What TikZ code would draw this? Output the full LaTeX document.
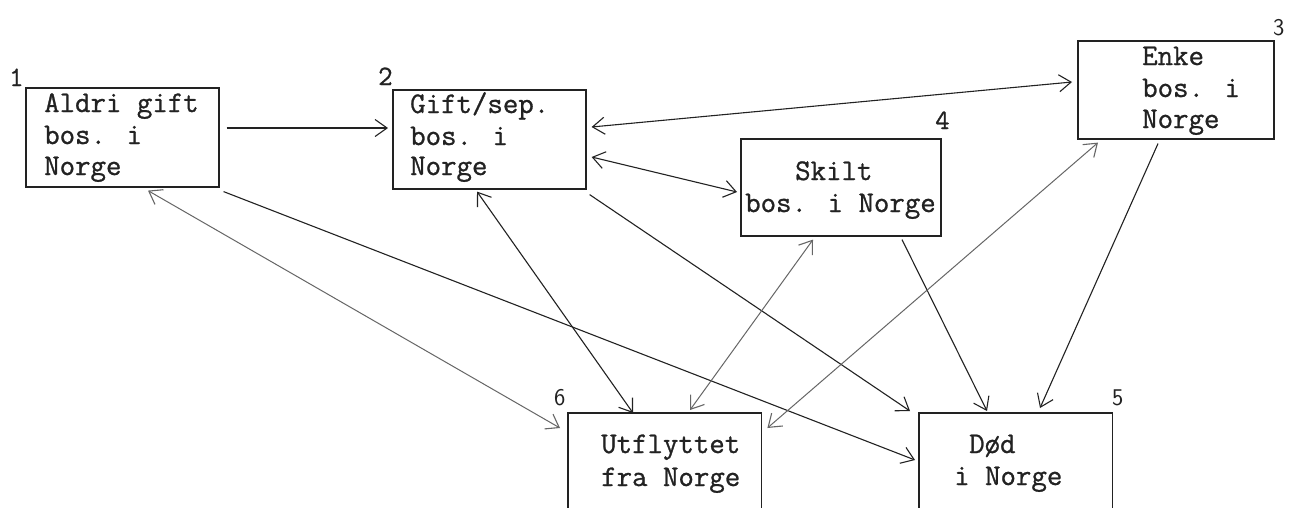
\documentclass[tikz,border=0pt]{standalone}
\usepackage{fontspec}
\newfontfamily\typew{Latin Modern Mono}[FakeBold=0.9]
\usetikzlibrary{arrows.meta,calc}
\definecolor{ink}{HTML}{222222}
\definecolor{faint}{HTML}{666666}
\tikzset{
  box/.style={draw=ink, line width=1.6pt, inner sep=0pt, anchor=north west},
  openbox/.style={draw=none, inner sep=0pt, anchor=north west},
  txt/.style={anchor=base west, inner sep=0pt, text=ink, font=\fontsize{30}{32}\selectfont\typew},
  numtt/.style={anchor=base west, inner sep=0pt, text=ink, font=\fontsize{28}{30}\selectfont\typew},
  numsf/.style={anchor=base west, inner sep=0pt, text=ink, font=\fontsize{24}{26}\selectfont\sffamily},
  conn/.style={draw=ink, line width=1.1pt, -{Straight Barb[length=12pt,width=17pt,line width=1.1pt]}},
  biconn/.style={draw=ink, line width=1.1pt, {Straight Barb[length=12pt,width=17pt,line width=1.1pt]}-{Straight Barb[length=12pt,width=17pt,line width=1.1pt]}},
  light/.style={draw=faint, line width=1pt}
}
\begin{document}
\begin{tikzpicture}[x=1pt,y=-1pt]
\useasboundingbox (0,0) rectangle (1289,507);
\clip (0,0) rectangle (1289,507);
\fill[white] (0,0) rectangle (1289,507);

% boxes
\node[box, minimum width=193pt, minimum height=99pt] (b1) at (25,87) {};
\node[box, minimum width=193pt, minimum height=99pt] (b2) at (392,89) {};
\node[box, minimum width=196pt, minimum height=98pt] (b3) at (1077,40) {};
\node[box, minimum width=200pt, minimum height=97pt] (b4) at (740,138) {};
\node[openbox, minimum width=193pt, minimum height=130pt] (b6) at (568,413) {};
\node[openbox, minimum width=193pt, minimum height=130pt] (b5) at (919,413) {};
\draw[ink, line width=1.6pt] (b6.south west) |- (b6.north east) -- (b6.south east);
\draw[ink, line width=1.6pt] (b5.south west) |- (b5.north east) -- (b5.south east);

% texts
\node[txt] (t1a) at (44,112) {Aldri gift};
\node[txt] (t1b) at (44,144) {bos. i};
\node[txt] (t1c) at (44,175) {Norge};
\node[txt] (t2a) at (410,113) {Gift/sep.};
\node[txt] (t2b) at (410,145) {bos. i};
\node[txt] (t2c) at (410,175) {Norge};
\node[txt] (t3a) at (1142,65) {Enke};
\node[txt] (t3b) at (1142,97) {bos. i};
\node[txt] (t3c) at (1142,128) {Norge};
\node[txt] (t4a) at (795,180) {Skilt};
\node[txt] (t4b) at (745,212) {bos. i Norge};
\node[txt] (t6a) at (601,453) {Utflyttet};
\node[txt] (t6b) at (601,486) {fra Norge};
\node[txt] (t5a) at (969,453) {Død};
\node[txt] (t5b) at (954,485) {i Norge};

% numbers
\node[numtt] (n1) at (9,86) {1};
\node[numtt] (n2) at (378,85) {2};
\node[numsf] (n3) at (1273,35) {3};
\node[numtt] (n4) at (935,129) {4};
\node[numsf] (n5) at (1112,405) {5};
\node[numsf] (n6) at (554,405) {6};

% connectors
\draw[conn] ($(b1.north east)+(7,41)$) -- ($(b2.north west)+(-4,39)$);
\draw[biconn] ($(b2.north east)+(5,38)$) -- ($(b3.north west)+(-5,42)$);
\draw[biconn] ($(b2.north east)+(5,68)$) -- ($(b4.north west)+(-3,54)$);
\draw[biconn, light] ($(b1.south west)+(123,3)$) -- ($(b6.north west)+(-8,15)$);
\draw[conn] ($(b1.south east)+(4,4)$) -- ($(b5.north west)+(-4,47)$);
\draw[biconn] ($(b2.south west)+(85,2)$) -- ($(b6.north west)+(65,0)$);
\draw[conn] ($(b2.south east)+(3,5)$) -- ($(b5.north west)+(-9,-2)$);
\draw[biconn, light] ($(b4.south west)+(73,3)$) -- ($(b6.north west)+(122,-3)$);
\draw[conn] ($(b4.south west)+(162,3)$) -- ($(b5.north west)+(68,-2)$);
\draw[conn] ($(b3.south west)+(81,4)$) -- ($(b5.north west)+(121,-5)$);
\draw[biconn, light] ($(b3.south west)+(21,3)$) -- ($(b6.north east)+(6,15)$);
\end{tikzpicture}
\end{document}
